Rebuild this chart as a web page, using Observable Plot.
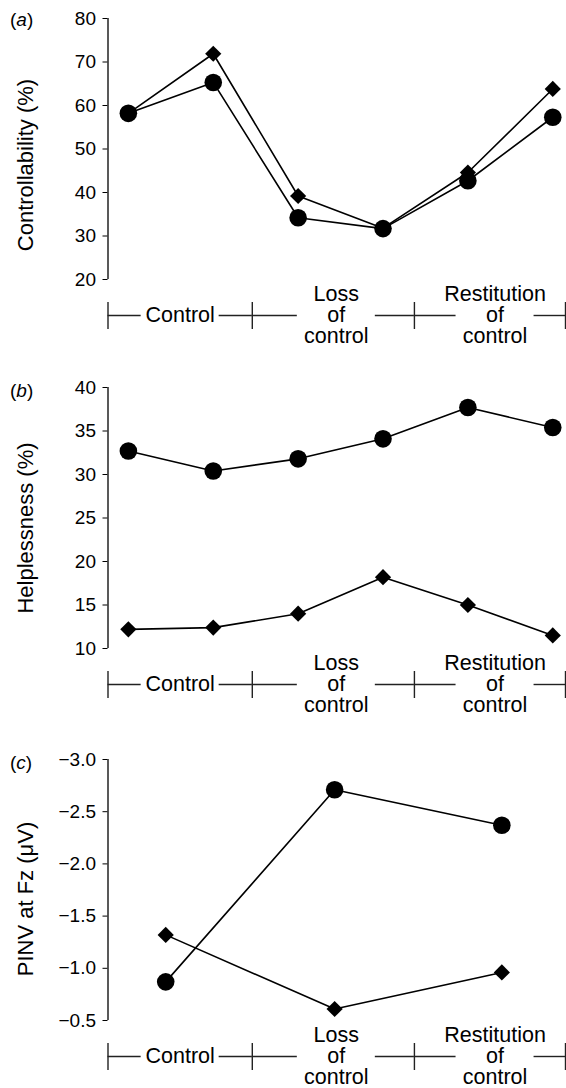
<!DOCTYPE html>
<html>
<head>
<meta charset="utf-8">
<script src="https://cdn.jsdelivr.net/npm/d3@7"></script>
<script src="https://cdn.jsdelivr.net/npm/@observablehq/plot@0.6"></script>
<style>
  html, body { margin: 0; padding: 0; background: #fff; }
  body { width: 566px; font-family: "Liberation Sans", Arial, Helvetica, sans-serif; color: #000; }
  .panel { position: relative; width: 566px; }
  .panel svg { display: block; }
  .tag { position: absolute; left: 10px; font-size: 19px; line-height: 22px; color: #000; }
</style>
</head>
<body>
<div id="chart"></div>
<script>
// ---- data ----
const stageLabels = ["Control", "Loss\nof\ncontrol", "Restitution\nof\ncontrol"];
const stageEdges = [-0.24, 1.46, 3.37, 5.15];      // stage boundaries (session units)
const stageCenters = [0.61, 2.45, 4.32];           // stage label centres (session units)

const sessionX = [0, 1, 2, 3, 4, 5];
const controllabilityCircle  = [58.2, 65.3, 34.2, 31.7, 42.7, 57.3];
const controllabilityDiamond = [58.2, 71.9, 39.2, 31.8, 44.6, 63.8];

const helplessnessCircle  = [32.7, 30.4, 31.8, 34.1, 37.7, 35.4];
const helplessnessDiamond = [12.2, 12.4, 14.0, 18.2, 15.0, 11.5];

const pinvX = [0.44, 2.43, 4.4];
const pinvCircle  = [-0.87, -2.71, -2.37];
const pinvDiamond = [-1.32, -0.61, -0.96];

const ticksA = [20, 30, 40, 50, 60, 70, 80];
const ticksB = [10, 15, 20, 25, 30, 35, 40];
const ticksC = [-3.0, -2.5, -2.0, -1.5, -1.0, -0.5];

// ---- layout ----
const W = 566, ML = 107.5, MR = 1, MT = 18, INNER = 261;
const xDomain = [stageEdges[0], stageEdges[stageEdges.length - 1]];
const FONT = '"Liberation Sans", Arial, Helvetica, sans-serif';

const panels = [
  {tag: "a", H: 369, yDomain: [20, 80], ticks: ticksA, fmt: d3.format("d"),
   title: "Controllability (%)", titleDy: 16, x: sessionX, circle: controllabilityCircle, diamond: controllabilityDiamond},
  {tag: "b", H: 372, yDomain: [10, 40], ticks: ticksB, fmt: d3.format("d"),
   title: "Helplessness (%)", titleDy: 10, x: sessionX, circle: helplessnessCircle, diamond: helplessnessDiamond},
  {tag: "c", H: 347, yDomain: [-0.5, -3.0], ticks: ticksC, fmt: d3.format(".1f"),
   title: "PINV at Fz (\u03bcV)", titleDy: 9, x: pinvX, circle: pinvCircle, diamond: pinvDiamond}
];

function makePanel(p) {
  const MB = p.H - MT - INNER;
  const xs = d3.scaleLinear(xDomain, [ML, W - MR]);
  const ys = d3.scaleLinear(p.yDomain, [MT + INNER, MT]);
  const base = MT + INNER;
  const yLine = ys.invert(base + 36);
  const yTickTop = ys.invert(base + 23);
  const yTickBot = ys.invert(base + 50);
  const gap = xs.invert(xs(0) + 39);

  const segs = [];
  stageCenters.forEach((c, i) => {
    segs.push({x1: stageEdges[i], x2: c - gap, y: yLine});
    segs.push({x1: c + gap, x2: stageEdges[i + 1], y: yLine});
  });
  const edges = stageEdges.map(e => ({x: e, y1: yTickTop, y2: yTickBot}));
  const labels = stageCenters.map((c, i) => ({x: c, y: yLine, t: stageLabels[i]}));
  const rows = p.x.map((x, i) => ({x, circle: p.circle[i], diamond: p.diamond[i]}));

  return Plot.plot({
    width: W, height: p.H,
    marginLeft: ML, marginRight: MR, marginTop: MT, marginBottom: MB,
    style: {fontFamily: FONT, fontSize: "19px", color: "#000", background: "#fff", overflow: "visible"},
    x: {domain: xDomain, axis: null},
    y: {domain: p.yDomain, ticks: p.ticks, tickFormat: p.fmt, tickSize: 5, tickPadding: 7, label: null},
    marks: [
      Plot.ruleX([{x: xDomain[0], y1: p.yDomain[0], y2: p.yDomain[1]}], {x: "x", y1: "y1", y2: "y2", stroke: "#222", strokeWidth: 1.5}),
      Plot.text([p.title], {frameAnchor: "left", textAnchor: "middle", text: d => d, rotate: -90, dx: -82.5, dy: p.titleDy, fontSize: 22, fill: "#000"}),
      Plot.line(rows, {x: "x", y: "diamond", stroke: "#000", strokeWidth: 1.6}),
      Plot.line(rows, {x: "x", y: "circle", stroke: "#000", strokeWidth: 1.6}),
      Plot.dot(rows, {x: "x", y: "diamond", symbol: "diamond2", r: 7.3, fill: "#000", stroke: "none"}),
      Plot.dot(rows, {x: "x", y: "circle", symbol: "circle", r: 8.8, fill: "#000", stroke: "none"}),
      Plot.ruleY(segs, {y: "y", x1: "x1", x2: "x2", stroke: "#222", strokeWidth: 1.4}),
      Plot.ruleX(edges, {x: "x", y1: "y1", y2: "y2", stroke: "#222", strokeWidth: 1.4}),
      Plot.text(labels, {x: "x", y: "y", text: "t", fontSize: 21.5, lineHeight: 0.96, lineAnchor: "middle", fill: "#000"})
    ]
  });
}

const root = document.getElementById("chart");
panels.forEach((p, i) => {
  const div = document.createElement("div");
  div.className = "panel";
  div.appendChild(makePanel(p));
  const tag = document.createElement("div");
  tag.className = "tag";
  tag.style.top = (i === 0 ? 9 : 11) + "px";
  tag.innerHTML = "(<i>" + p.tag + "</i>)";
  div.appendChild(tag);
  root.appendChild(div);
});
</script>
</body>
</html>
